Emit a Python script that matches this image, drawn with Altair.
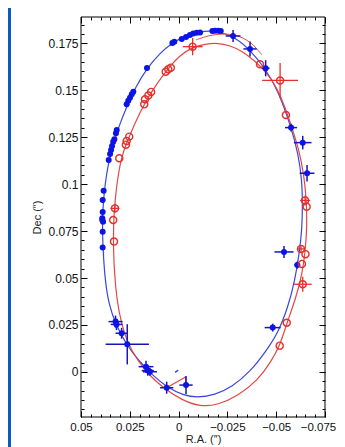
import altair as alt
import pandas as pd

# ---------------- data (R.A. and Dec in arcsec) ----------------
# Blue component: filled points without error bars
blue_ra = [0.0162, 0.0232, 0.0240, 0.0249, 0.0258, 0.0266, 0.0317, 0.0321, 0.0329, 0.0335,
           0.0341, 0.0346, 0.0351, 0.0358, 0.0384, 0.0389, 0.0389, 0.0391, 0.0391, 0.0387,
           0.0389, 0.0389, 0.0032, 0.0022, -0.0016, -0.0038, -0.0058, -0.0075, -0.0093,
           -0.0110, -0.0173, -0.0186, -0.0203, -0.0216]
blue_dec = [0.1618, 0.1492, 0.1478, 0.1460, 0.1444, 0.1425, 0.1288, 0.1271, 0.1239, 0.1226,
            0.1203, 0.1182, 0.1161, 0.1129, 0.0965, 0.0916, 0.0852, 0.0818, 0.0809, 0.0800,
            0.0747, 0.0663, 0.1752, 0.1758, 0.1773, 0.1784, 0.1794, 0.1802, 0.1806,
            0.1808, 0.1815, 0.1817, 0.1817, 0.1815]

# Blue component: points with error bars
bx_ra = [-0.0279, -0.0366, -0.0446, -0.0576, -0.0636, -0.0658, -0.0540, -0.0608, -0.0482,
         0.0323, 0.0318, 0.0292, 0.0263, 0.0167, 0.0158, 0.0147, 0.0061, -0.0038]
bx_dec = [0.1789, 0.1720, 0.1617, 0.1301, 0.1221, 0.1058, 0.0639, 0.0569, 0.0236,
          0.0268, 0.0253, 0.0206, 0.0147, 0.0028, 0.0007, 0.0001, -0.0084, -0.0070]
bx_era = [0.0038, 0.0034, 0.0020, 0.0031, 0.0045, 0.0038, 0.0049, 0.0015, 0.0041,
          0.0036, 0.0030, 0.0031, 0.0111, 0.0038, 0.0031, 0.0036, 0.0034, 0.0034]
bx_edec = [0.0032, 0.0040, 0.0043, 0.0021, 0.0036, 0.0044, 0.0032, 0.0019, 0.0021,
           0.0032, 0.0030, 0.0029, 0.0107, 0.0032, 0.0027, 0.0021, 0.0032, 0.0048]

# Red component: open circles (error 0 = no bar drawn)
red_ra = [-0.0072, 0.0066, 0.0053, 0.0040, 0.0141, 0.0155, 0.0172, 0.0176, 0.0253, 0.0266,
          0.0270, 0.0304, 0.0326, 0.0335, 0.0331, -0.0417, -0.0520, -0.0550, -0.0648,
          -0.0656, -0.0627, -0.0650, -0.0632, -0.0636, -0.0554, -0.0518]
red_dec = [0.1732, 0.1599, 0.1612, 0.1620, 0.1491, 0.1472, 0.1452, 0.1425, 0.1253, 0.1230,
           0.1210, 0.1138, 0.0871, 0.0809, 0.0694, 0.1638, 0.1552, 0.1368, 0.0913,
           0.0880, 0.0655, 0.0627, 0.0575, 0.0467, 0.0262, 0.0140]
red_era = [0.0051, 0, 0, 0, 0, 0, 0, 0, 0, 0,
           0, 0, 0.0023, 0, 0, 0, 0.0092, 0, 0.0026,
           0, 0.0020, 0, 0, 0.0046, 0, 0]
red_edec = [0.0046, 0, 0, 0, 0, 0, 0, 0, 0, 0,
            0, 0, 0.0024, 0, 0, 0, 0.0093, 0, 0.0027,
            0, 0.0016, 0, 0, 0.0040, 0, 0]

# Orbit curves
blue_orbit_ra = [-0.0186, -0.0110, -0.0033, 0.0034, 0.0095, 0.0162, 0.0223, 0.0269, 0.0305,
                 0.0336, 0.0362, 0.0377, 0.0387, 0.0391, 0.0387, 0.0377, 0.0357, 0.0321,
                 0.0269, 0.0208, 0.0136, 0.0054, -0.0023, -0.0094, -0.0186, -0.0274,
                 -0.0366, -0.0448, -0.0509, -0.0561, -0.0596, -0.0617, -0.0632, -0.0635,
                 -0.0632, -0.0612, -0.0578, -0.0509, -0.0443, -0.0366, -0.0289]
blue_orbit_dec = [0.1818, 0.1813, 0.1789, 0.1752, 0.1698, 0.1618, 0.1512, 0.1405, 0.1310,
                  0.1208, 0.1102, 0.0995, 0.0889, 0.0782, 0.0649, 0.0490, 0.0356, 0.0250,
                  0.0149, 0.0064, -0.0016, -0.0086, -0.0123, -0.0137, -0.0123, -0.0080,
                  0.0000, 0.0111, 0.0207, 0.0346, 0.0490, 0.0623, 0.0756, 0.0889,
                  0.1022, 0.1166, 0.1299, 0.1501, 0.1618, 0.1714, 0.1784]

red_orbit_ra = [-0.0202, -0.0135, -0.0074, -0.0007, 0.0065, 0.0141, 0.0198, 0.0254, 0.0290,
                0.0310, 0.0326, 0.0334, 0.0334, 0.0328, 0.0316, 0.0295, 0.0264, 0.0208,
                0.0147, 0.0070, -0.0017, -0.0110, -0.0202, -0.0304, -0.0407, -0.0473,
                -0.0520, -0.0555, -0.0601, -0.0632, -0.0650, -0.0658, -0.0655, -0.0642,
                -0.0617, -0.0581, -0.0545, -0.0504, -0.0453, -0.0391, -0.0325, -0.0263]
red_orbit_dec = [0.1752, 0.1746, 0.1730, 0.1688, 0.1602, 0.1491, 0.1384, 0.1251, 0.1155,
                 0.1049, 0.0916, 0.0782, 0.0649, 0.0516, 0.0383, 0.0266, 0.0159, 0.0058,
                 -0.0022, -0.0091, -0.0150, -0.0185, -0.0176, -0.0128, -0.0043, 0.0053,
                 0.0143, 0.0261, 0.0394, 0.0516, 0.0649, 0.0782, 0.0916, 0.1049,
                 0.1182, 0.1299, 0.1411, 0.1512, 0.1592, 0.1656, 0.1709, 0.1738]

red_arc_ra = [-0.0089, -0.0161, -0.0243, -0.0315, -0.0376, -0.0427]
red_arc_dec = [0.1768, 0.1791, 0.1799, 0.1784, 0.1746, 0.1688]

red_seg_ra = [0.0061, -0.0035, -0.0038]
red_seg_dec = [-0.0084, -0.0027, -0.0064]

blue_dash_ra = [0.0018, 0.0002]
blue_dash_dec = [-0.0002, 0.0010]

# Axis ticks
x_major = [0.05, 0.025, 0, -0.025, -0.05, -0.075]
x_minor = [round(-0.075 + 0.005 * i, 3) for i in range(26)]
y_major = [0, 0.025, 0.05, 0.075, 0.1, 0.125, 0.15, 0.175]
y_minor = [round(-0.02 + 0.005 * i, 3) for i in range(42)]

# ---------------- build ----------------
W, H = 244, 400
xs = alt.Scale(domain=[-0.075, 0.05], reverse=True, nice=False, zero=False)
ys = alt.Scale(domain=[-0.024, 0.189], nice=False, zero=False)

BLUE_PT = "#0a14e6"
BLUE_LN = "#3a46dc"
BLUE_ERR = "#1616b8"
RED_PT = "#e4302a"
RED_LN = "#e04848"
LABEL_EXPR = "datum.value == 0 ? '0' : replace('' + datum.value, '-', '\u2212')"


def X(field="ra", axis=None):
    return alt.X(f"{field}:Q", scale=xs, axis=axis)


def Y(field="dec", axis=None):
    return alt.Y(f"{field}:Q", scale=ys, axis=axis)


panel = alt.Chart(pd.DataFrame({"a": [0]})).mark_rect(color="white").encode(
    x=alt.value(-70), x2=alt.value(270), y=alt.value(-9), y2=alt.value(440)
)

frame = alt.Chart(pd.DataFrame({"a": [0]})).mark_rect(
    filled=False, stroke="black", strokeWidth=1
).encode(x=alt.value(0), x2=alt.value(W), y=alt.value(0), y2=alt.value(H))

bo = pd.DataFrame({"ra": blue_orbit_ra, "dec": blue_orbit_dec, "i": range(len(blue_orbit_ra))})
ro = pd.DataFrame({"ra": red_orbit_ra, "dec": red_orbit_dec, "i": range(len(red_orbit_ra))})
ra_ = pd.DataFrame({"ra": red_arc_ra, "dec": red_arc_dec, "i": range(len(red_arc_ra))})
rs = pd.DataFrame({"ra": red_seg_ra, "dec": red_seg_dec, "i": range(len(red_seg_ra))})
bd = pd.DataFrame({"ra": blue_dash_ra, "dec": blue_dash_dec, "i": range(len(blue_dash_ra))})

blue_orbit = alt.Chart(bo).mark_line(color=BLUE_LN, strokeWidth=1.2, interpolate="basis-closed").encode(
    x=X(), y=Y(), order="i:Q")
red_orbit = alt.Chart(ro).mark_line(color=RED_LN, strokeWidth=1.2, interpolate="basis-closed").encode(
    x=X(), y=Y(), order="i:Q")
red_arc = alt.Chart(ra_).mark_line(color=RED_LN, strokeWidth=1.0, interpolate="cardinal").encode(
    x=X(), y=Y(), order="i:Q")
red_seg = alt.Chart(rs).mark_line(color=RED_LN, strokeWidth=1.3).encode(
    x=X(), y=Y(), order="i:Q")
blue_dash = alt.Chart(bd).mark_line(color=BLUE_LN, strokeWidth=1.5).encode(
    x=X(), y=Y(), order="i:Q")

bx = pd.DataFrame({"ra": bx_ra, "dec": bx_dec, "era": bx_era, "edec": bx_edec})
bx["ra1"] = bx.ra - bx.era
bx["ra2"] = bx.ra + bx.era
bx["dec1"] = bx.dec - bx.edec
bx["dec2"] = bx.dec + bx.edec

rd = pd.DataFrame({"ra": red_ra, "dec": red_dec, "era": red_era, "edec": red_edec})
rd["ra1"] = rd.ra - rd.era
rd["ra2"] = rd.ra + rd.era
rd["dec1"] = rd.dec - rd.edec
rd["dec2"] = rd.dec + rd.edec
rde = rd[rd.era > 0]

b_hbar = alt.Chart(bx).mark_rule(color=BLUE_ERR, strokeWidth=1.5).encode(
    x=X("ra1"), x2="ra2:Q", y=Y())
b_vbar = alt.Chart(bx).mark_rule(color=BLUE_ERR, strokeWidth=1.5).encode(
    x=X(), y=Y("dec1"), y2="dec2:Q")
r_hbar = alt.Chart(rde).mark_rule(color=RED_PT, strokeWidth=1.3).encode(
    x=X("ra1"), x2="ra2:Q", y=Y())
r_vbar = alt.Chart(rde).mark_rule(color=RED_PT, strokeWidth=1.3).encode(
    x=X(), y=Y("dec1"), y2="dec2:Q")

bp = pd.DataFrame({"ra": blue_ra, "dec": blue_dec})
blue_pts = alt.Chart(bp).mark_circle(color=BLUE_PT, size=36, opacity=1).encode(x=X(), y=Y())
bx_pts = alt.Chart(bx).mark_circle(color=BLUE_PT, size=36, opacity=1).encode(x=X(), y=Y())
red_pts = alt.Chart(rd).mark_point(shape="circle", color=RED_PT, size=50, strokeWidth=1.4,
                                   filled=False, opacity=1).encode(x=X(), y=Y())

# axis carrier layers (shared scales, independent axes)
anchor = pd.DataFrame({"ra": [0.0], "dec": [0.08]})
common = dict(grid=False, domain=False, zindex=1, tickColor="black", tickWidth=1)

ax_b_major = alt.Axis(orient="bottom", values=x_major, labelExpr=LABEL_EXPR, tickSize=6, offset=-6,
                      labelPadding=4, labelFontSize=11.5, labelColor="#111", labelFont="Liberation Sans",
                      labelOverlap=False, labelFlush=False, labelBound=False,
                      labelOffset={"condition": {"test": "datum.value < -0.07", "value": -7}, "value": 0},
                      title="R.A. (″)", titleFontSize=11, titleFontWeight="normal",
                      titleFont="Liberation Sans", titlePadding=1, titleColor="#222", **common)
ax_b_minor = alt.Axis(orient="bottom", values=x_minor, tickSize=3, offset=-3, labels=False,
                      title=None, **common)
ax_t_major = alt.Axis(orient="top", values=x_major, tickSize=6, offset=-6, labels=False,
                      title=None, **common)
ax_t_minor = alt.Axis(orient="top", values=x_minor, tickSize=3, offset=-3, labels=False,
                      title=None, **common)
ax_l_major = alt.Axis(orient="left", values=y_major, labelExpr=LABEL_EXPR, tickSize=6, offset=-6,
                      labelPadding=3, labelFontSize=12, labelColor="#111", labelFont="Liberation Sans",
                      labelOverlap=False, labelFlush=False,
                      title="Dec (″)", titleFontSize=11, titleFontWeight="normal",
                      titleFont="Liberation Sans", titlePadding=5, titleColor="#222", **common)
ax_l_minor = alt.Axis(orient="left", values=y_minor, tickSize=3, offset=-3, labels=False,
                      title=None, **common)
ax_r_major = alt.Axis(orient="right", values=y_major, tickSize=6, offset=-6, labels=False,
                      title=None, **common)
ax_r_minor = alt.Axis(orient="right", values=y_minor, tickSize=3, offset=-3, labels=False,
                      title=None, **common)


def carrier(xa, ya):
    return alt.Chart(anchor).mark_point(opacity=0).encode(x=X(axis=xa), y=Y(axis=ya))


chart = alt.layer(
    panel,
    carrier(ax_b_major, ax_l_major),
    carrier(ax_b_minor, ax_l_minor),
    carrier(ax_t_major, ax_r_major),
    carrier(ax_t_minor, ax_r_minor),
    blue_orbit, red_orbit, red_arc, red_seg, blue_dash,
    b_hbar, b_vbar, r_hbar, r_vbar,
    blue_pts, bx_pts, red_pts,
    frame,
).resolve_axis(x="independent", y="independent").properties(
    width=W, height=H,
    autosize=alt.AutoSizeParams(type="none"),
    padding={"left": 73, "top": 9, "right": 12, "bottom": 30},
    background="#0b5cb8",
).configure_view(stroke=None)

chart.save("out.html", embed_options={"renderer": "svg", "actions": False})
